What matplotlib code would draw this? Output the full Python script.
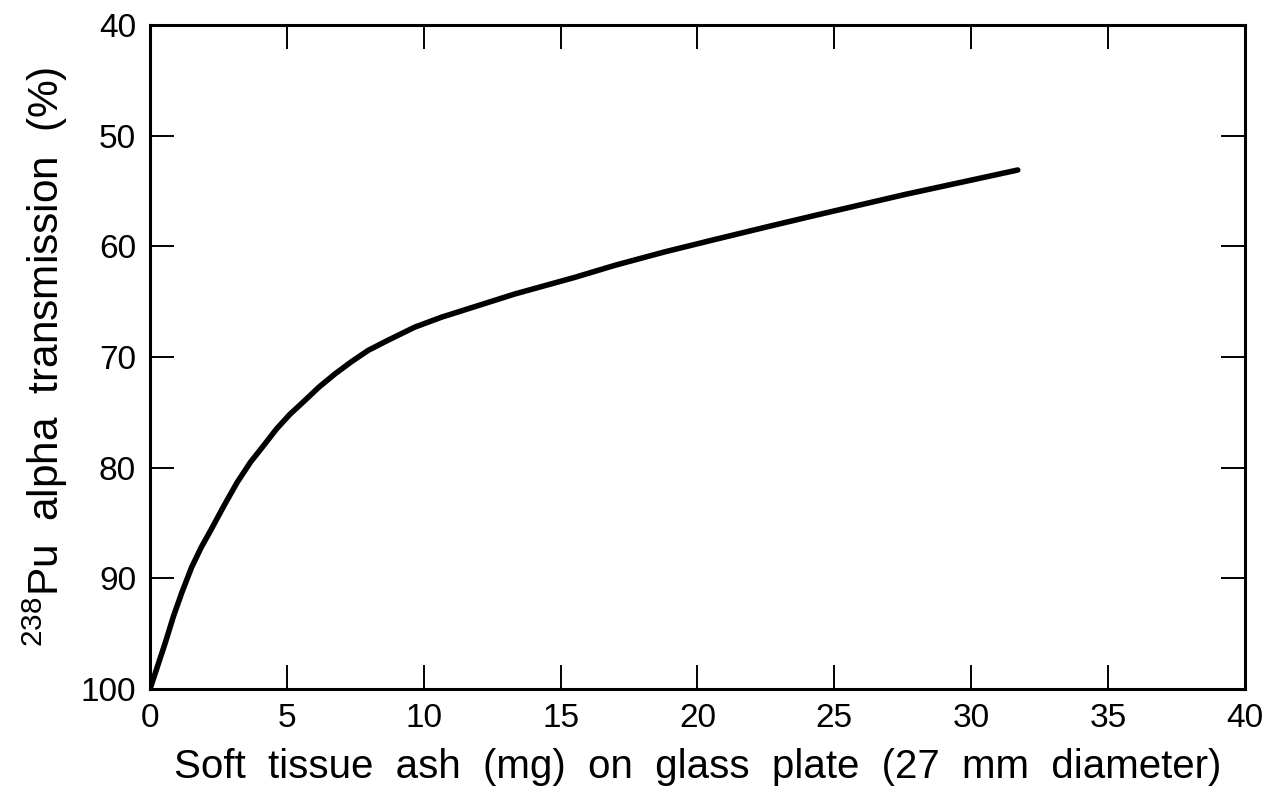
import matplotlib
matplotlib.use("Agg")
import matplotlib.pyplot as plt

plt.rcParams['font.family'] = ['Liberation Sans', 'DejaVu Sans']
plt.rcParams['mathtext.fontset'] = 'custom'
plt.rcParams['mathtext.rm'] = 'Liberation Sans'
plt.rcParams['mathtext.default'] = 'regular'

# Data
ash_mg = [0, 0.32, 0.56, 0.86, 1.16, 1.52, 1.87, 2.23, 2.71, 3.19, 3.67, 4.15,
          4.62, 5.10, 5.58, 6.18, 6.77, 7.37, 7.97, 8.68, 9.67, 10.65, 13.33,
          15.52, 17.0, 18.8, 20.6, 22.6, 24.3, 27.6, 30.4, 31.7]
transmission = [100, 97.6, 95.8, 93.4, 91.3, 89.0, 87.2, 85.6, 83.4, 81.3,
                79.5, 78.0, 76.5, 75.2, 74.1, 72.7, 71.5, 70.4, 69.4, 68.5,
                67.3, 66.4, 64.3, 62.8, 61.7, 60.5, 59.4, 58.2, 57.2, 55.3,
                53.8, 53.1]
x_ticks = [0, 5, 10, 15, 20, 25, 30, 35, 40]
y_ticks = [40, 50, 60, 70, 80, 90, 100]

fig = plt.figure(figsize=(12.67, 7.92), dpi=100)
ax = fig.add_axes([0.1184, 0.130, 0.8642, 0.8384])

ax.plot(ash_mg, transmission, color='black', lw=4.0, solid_capstyle='round',
        solid_joinstyle='round')

ax.set_xlim(0, 40)
ax.set_ylim(100, 40)
ax.set_xticks(x_ticks)
ax.set_yticks(y_ticks)
ax.tick_params(direction='in', length=17, width=1.4, labelsize=24,
               top=True, right=True, colors='black')
ax.tick_params(axis='x', pad=10)
ax.tick_params(axis='y', pad=10)
for s in ax.spines.values():
    s.set_linewidth(2.2)

ax.set_xlabel('Soft  tissue  ash  (mg)  on  glass  plate  (27  mm  diameter)',
              fontsize=29, labelpad=10)
ax.set_ylabel(r'$^{238}$Pu  alpha  transmission  (%)', fontsize=30.5, labelpad=8)

fig.savefig('out.png', dpi=100)
